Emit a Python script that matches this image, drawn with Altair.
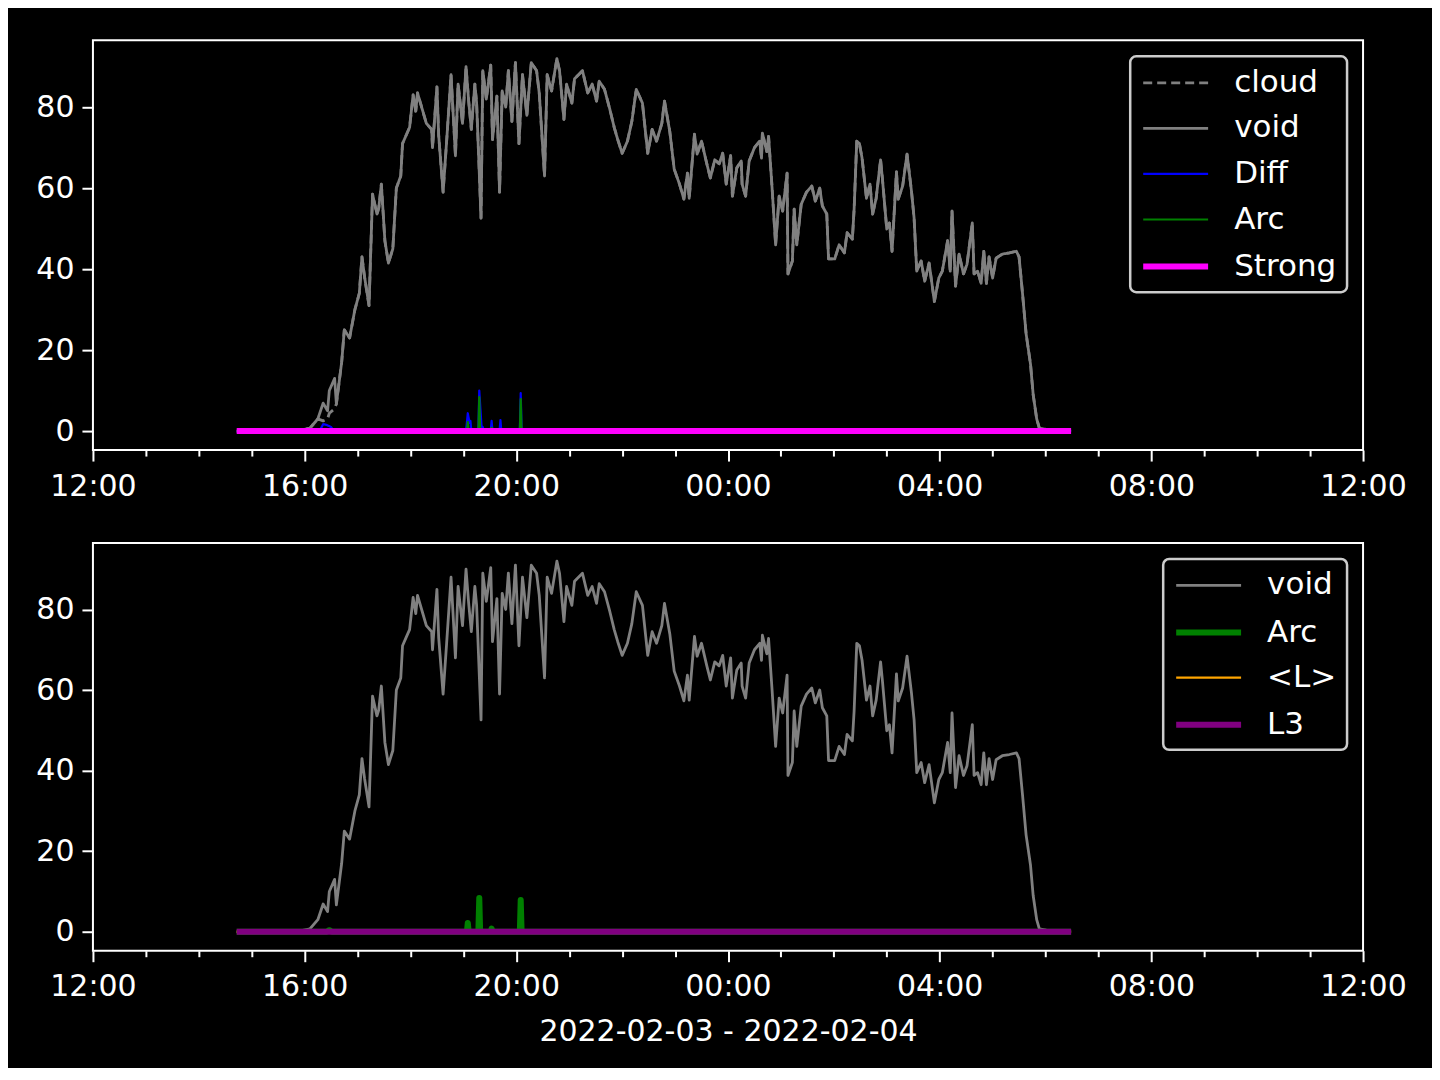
import altair as alt
import pandas as pd

# ---------------- data ----------------
void_times = ["14:43","15:43","15:55","16:06","16:15","16:21","16:26","16:28","16:34","16:36","16:42","16:45","16:51","16:57",
              "17:02","17:05","17:08","17:13","17:17","17:22","17:24","17:27","17:31","17:35","17:40","17:44","17:49","17:51","17:55","17:59",
              "18:03","18:06","18:08","18:14","18:18","18:24","18:25","18:30","18:32","18:37","18:41","18:46","18:48","18:51","18:54","18:59",
              "19:03","19:06","19:09","19:13","19:15","19:20","19:22","19:26","19:31","19:33","19:38","19:41","19:44","19:48","19:51","19:55","19:59",
              "20:03","20:07","20:12","20:17","20:23","20:26","20:32","20:35","20:40","20:46","20:49","20:54","20:57",
              "21:03","21:06","21:15","21:21","21:26","21:31","21:34","21:40","21:46","21:51","21:55",
              "22:00","22:06","22:11","22:16","22:23","22:29","22:34","22:39","22:45","22:48","22:54","22:59",
              "23:05","23:10","23:14","23:16","23:22","23:25","23:30","23:36","23:40","23:45","23:50","23:54","23:58",
              "00:03","00:05","00:10","00:15","00:16","00:20","00:24","00:30","00:36","00:38","00:39","00:44","00:46","00:50","00:54","00:58",
              "01:02","01:07","01:08","01:13","01:15","01:18","01:23","01:29","01:35","01:39","01:44","01:47","01:52","01:54",
              "02:01","02:06","02:12","02:15","02:21","02:23","02:26","02:29","02:32","02:37","02:41","02:44","02:48","02:53","02:55",
              "03:00","03:03","03:06","03:11","03:13","03:18","03:23","03:28","03:31","03:34","03:39","03:43","03:48","03:54","03:59",
              "04:03","04:09","04:12","04:14","04:18","04:22","04:27","04:31","04:37","04:39","04:43","04:47","04:50","04:53","04:56",
              "05:00","05:04","05:11","05:19","05:27","05:30","05:34","05:38","05:43","05:46","05:50","05:53","06:01","06:29"]
void_vals = [0,0,0.2,0.7,3,6.9,5,10,13,6.7,17,25,23,30,
             34,43,38,31,58.5,53.6,55,61,47,41.5,45,60,63,71,73,75,
             83,79,83.5,79,76,74.5,70,85,73,59,71.6,88,80,68,85.7,76,
             90,81.5,74.5,85.7,81,52.6,89,82,90.4,72,82.7,59,84,80,89,76.5,91,
             71,88,78,91,89,83.5,63,88,84,92,89,77,85.7,
             81,87,89,83.5,85.7,81.5,86.4,84.4,79.5,75,72,
             68.6,71.6,76.5,84.4,81,68.6,74.5,71.6,76,81.5,74,64.7,
             61,57.3,63.7,57.5,73.3,68.4,71.6,66,62.5,67,66,68.6,61,
             68,58,65,66.7,61,58,66.7,70,71.6,67.4,73.6,69,72.8,60,46,58,
             54.3,63.7,38.8,42,54.8,46,56,59,60.5,56.8,60,55.6,53.6,42.5,
             42.5,46,44,49,47.4,54.8,71.6,71,67.4,57.5,61,53.6,57.5,67,62.5,
             49.9,51.4,44.4,64,57.3,60.5,68.4,59.3,52.6,39.5,42,37,41.5,32,37.8,
             39.5,47,39.5,54.3,35.8,43.7,38.8,41.2,51.4,38.8,39.5,36.5,44.4,36.5,43,
             37.8,42.7,43.7,44,44.4,43,33.8,24,16.5,9,3,0.7,0.4,0]

# cloud follows void except early in the rise
cloud_diff_times = ["16:21", "16:26", "16:28", "16:34"]
cloud_diff_vals = [2.5, 3.0, 4.4, 5.5]

diff_times = ["14:43","16:17","16:21","16:25","16:30","16:33","19:03","19:05","19:07","19:08","19:09",
              "19:17","19:18","19:20","19:21","19:22","19:23","19:31","19:32","19:33","19:41","19:42","19:43",
              "20:04","20:05","20:06","06:29"]
diff_vals = [0,0,1.7,1.5,1.0,0,0,4.4,2.0,2.5,0,
             0,10,3,0,1.0,0,0,2.5,0,0,2.7,0,
             0,9.4,0,0]

arc_times = ["14:43","16:25","16:28","16:31","19:04","19:05","19:06","19:17","19:18","19:19",
             "19:31","19:32","19:33","20:04","20:05","20:06","06:29"]
arc_vals = [0,0,0.4,0,0,2.2,0,0,8.4,0,0,0.8,0,0,7.9,0,0]

flat_times = ["14:43", "06:29"]
flat_vals = [0, 0]

top_series = ["cloud", "void", "Diff", "Arc", "Strong"]
top_colors = ["#808080", "#808080", "#0000ff", "#008000", "#ff00ff"]
top_widths = [2.8, 2.8, 2.2, 2.2, 6]
top_dashes = [[9, 5], [1, 0], [1, 0], [1, 0], [1, 0]]

bot_series = ["void", "Arc", "<L>", "L3"]
bot_colors = ["#808080", "#008000", "#ffa500", "#800080"]
bot_widths = [2.8, 6, 2.4, 6]

x_label = "2022-02-03 - 2022-02-04"


def to_dt(hhmm):
    h, m = (int(p) for p in hhmm.split(":"))
    return pd.Timestamp(2022, 2, 3 if h >= 12 else 4, h, m)


def frame(name, times, vals):
    return pd.DataFrame({"t": [to_dt(s) for s in times], "v": vals, "series": name})


cloud_map = dict(zip(void_times, void_vals))
cloud_map.update(dict(zip(cloud_diff_times, cloud_diff_vals)))
cloud_times = list(cloud_map.keys())
cloud_vals = list(cloud_map.values())

top_df = pd.concat([
    frame("cloud", cloud_times, cloud_vals),
    frame("void", void_times, void_vals),
    frame("Diff", diff_times, diff_vals),
    frame("Arc", arc_times, arc_vals),
    frame("Strong", flat_times, flat_vals),
], ignore_index=True)

bot_df = pd.concat([
    frame("void", void_times, void_vals),
    frame("Arc", arc_times, arc_vals),
    frame("<L>", flat_times, flat_vals),
    frame("L3", flat_times, flat_vals),
], ignore_index=True)

FONT = "DejaVu Sans"
FS = 30
LFS = 31

hour_values = ([alt.DateTime(year=2022, month=2, date=3, hours=h) for h in range(12, 24)]
               + [alt.DateTime(year=2022, month=2, date=4, hours=h) for h in range(0, 13)])
x_domain = [alt.DateTime(year=2022, month=2, date=3, hours=12),
            alt.DateTime(year=2022, month=2, date=4, hours=12)]


def x_axis(title):
    kw = dict(
        values=hour_values,
        labelExpr="hours(datum.value) % 4 == 0 ? timeFormat(datum.value, '%H:%M') : ''",
        tickSize={"condition": {"test": "hours(datum.value) % 4 == 0", "value": 11}, "value": 6},
        labelPadding=10,
        grid=False,
        labelOverlap=False,
        labelFlush=False,
    )
    if title:
        kw.update(title=title, titlePadding=15, titleFontSize=FS, titleFontWeight="normal",
                  titleColor="white", titleFont=FONT)
    else:
        kw.update(title=None)
    return alt.Axis(**kw)


y_axis = alt.Axis(values=[0, 20, 40, 60, 80], tickSize=11, labelPadding=8, grid=False, title=None)


def panel(df, series, colors, widths, dashes, height, title):
    legend = alt.Legend(
        title=None, orient="top-right", offset=16,
        symbolType="M-1,0H3.33", symbolSize=900,
        labelFontSize=LFS, labelFont=FONT, labelColor="white", labelOffset=58,
        rowPadding=13.6, padding=10, fillColor="black", strokeColor="#cccccc",
        cornerRadius=6, labelLimit=400,
    )
    enc_color = alt.Color("series:N", scale=alt.Scale(domain=series, range=colors), legend=legend)
    enc_w = alt.StrokeWidth("series:N", scale=alt.Scale(type="ordinal", domain=series, range=widths), legend=legend)
    layers = []
    for s in series:
        enc = dict(
            x=alt.X("t:T", scale=alt.Scale(domain=x_domain), axis=x_axis(title)),
            y=alt.Y("v:Q", scale=alt.Scale(domain=[-4.7, 96.5]), axis=y_axis),
            color=enc_color,
            strokeWidth=enc_w,
        )
        if dashes is not None:
            enc["strokeDash"] = alt.StrokeDash("series:N", scale=alt.Scale(domain=series, range=dashes), legend=legend)
        layers.append(
            alt.Chart(df).transform_filter(alt.datum.series == s)
            .mark_line(strokeJoin="round", clip=True)
            .encode(**enc)
        )
    return alt.layer(*layers).properties(width=1271, height=height)


top = panel(top_df, top_series, top_colors, top_widths, top_dashes, 410, None)
bottom = panel(bot_df, bot_series, bot_colors, bot_widths, None, 408, x_label)

chart = alt.vconcat(top, bottom, spacing=40).resolve_scale(
    color="independent", strokeWidth="independent", strokeDash="independent"
).resolve_legend(
    color="independent", strokeWidth="independent", strokeDash="independent"
).properties(
    background="black",
    padding={"left": 26, "top": 31, "right": 24, "bottom": 20},
).configure_view(
    stroke="white", strokeWidth=2
).configure_axis(
    labelColor="white", tickColor="white", tickWidth=2, domain=False,
    labelFont=FONT, labelFontSize=FS,
).configure_legend(
    labelFont=FONT, strokeWidth=2.5,
)

chart.save("out.html", embed_options={"renderer": "svg", "actions": False})
